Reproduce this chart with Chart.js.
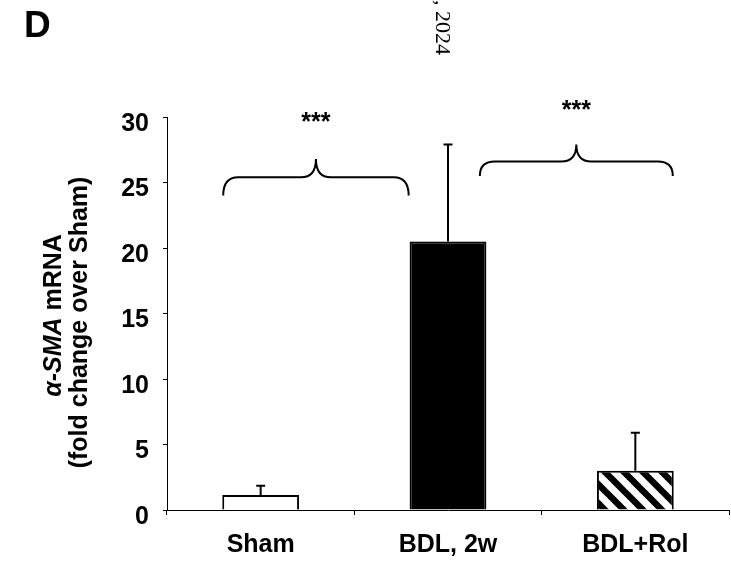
<!DOCTYPE html>
<html>
<head>
<meta charset="utf-8">
<script src="https://cdn.jsdelivr.net/npm/chart.js@4"></script>
<style>
  html, body { margin: 0; padding: 0; background: #fff; }
  #wrap { width: 731px; height: 563px; position: relative; }
</style>
</head>
<body>
<div id="wrap"><canvas id="chart"></canvas></div>
<script>
// values
const categories = ['Sham', 'BDL, 2w', 'BDL+Rol'];
const foldChange = [1.15, 20.5, 3.0];
const errorUp = [0.7, 7.4, 2.9];
const yMax = 30;
const yStep = 5;
// significance braces: category-index span and value levels
const braceFrom = [-0.2, 1.17];
const braceTo = [0.79, 2.2];
const braceFoot = [24.0, 25.5];
const braceLine = [25.4, 26.6];
const braceTip = [26.8, 27.9];
const braceLabel = ['***', '***'];
const braceLabelY = [29.8, 30.7];

const FONT = '"Liberation Sans", Arial, sans-serif';

function hatchPattern() {
  // black diagonal stripes, top-left to bottom-right
  const p = 19;
  const c = document.createElement('canvas');
  c.width = p; c.height = p;
  const g = c.getContext('2d');
  g.fillStyle = '#fff';
  g.fillRect(0, 0, p, p);
  g.strokeStyle = '#000';
  g.lineWidth = 6.5;
  for (const off of [-p, 0, p]) {
    g.beginPath();
    g.moveTo(off - 2, -2);
    g.lineTo(off + p + 2, p + 2);
    g.stroke();
  }
  return document.getElementById('chart').getContext('2d').createPattern(c, 'repeat');
}

const errorBars = {
  id: 'errorBars',
  afterDatasetsDraw(chart) {
    const { ctx, scales: { x, y } } = chart;
    ctx.save();
    ctx.strokeStyle = '#000';
    ctx.lineWidth = 2;
    for (let i = 0; i < foldChange.length; i++) {
      const px = x.getPixelForValue(i);
      const y0 = y.getPixelForValue(foldChange[i]);
      const y1 = y.getPixelForValue(foldChange[i] + errorUp[i]);
      ctx.beginPath();
      ctx.moveTo(px, y0);
      ctx.lineTo(px, y1);
      ctx.moveTo(px - 4.5, y1);
      ctx.lineTo(px + 4.5, y1);
      ctx.stroke();
    }
    ctx.restore();
  }
};

const braces = {
  id: 'braces',
  afterDraw(chart) {
    const { ctx, scales: { x, y } } = chart;
    ctx.save();
    ctx.strokeStyle = '#000';
    ctx.lineWidth = 2;
    for (let i = 0; i < braceFrom.length; i++) {
      const x0 = x.getPixelForValue(braceFrom[i]);
      const x1 = x.getPixelForValue(braceTo[i]);
      const xc = (x0 + x1) / 2;
      const yf = y.getPixelForValue(braceFoot[i]);
      const yl = y.getPixelForValue(braceLine[i]);
      const yt = y.getPixelForValue(braceTip[i]);
      const r = 15;
      ctx.beginPath();
      ctx.moveTo(x0, yf);
      ctx.quadraticCurveTo(x0, yl, x0 + r, yl);
      ctx.lineTo(xc - r, yl);
      ctx.quadraticCurveTo(xc, yl, xc, yt);
      ctx.quadraticCurveTo(xc, yl, xc + r, yl);
      ctx.lineTo(x1 - r, yl);
      ctx.quadraticCurveTo(x1, yl, x1, yf);
      ctx.stroke();

      ctx.fillStyle = '#000';
      ctx.font = 'bold 25px ' + FONT;
      ctx.textAlign = 'center';
      ctx.textBaseline = 'middle';
      ctx.fillText(braceLabel[i], xc, y.getPixelForValue(braceLabelY[i]) + 3);
    }
    ctx.restore();
  }
};

const extraText = {
  id: 'extraText',
  afterDraw(chart) {
    const ctx = chart.ctx;
    const y = chart.scales.y;
    ctx.save();
    ctx.fillStyle = '#000';

    // panel letter
    ctx.font = 'bold 37px ' + FONT;
    ctx.textAlign = 'left';
    ctx.textBaseline = 'alphabetic';
    ctx.fillText('D', 24, 37);

    // rotated margin text
    ctx.save();
    ctx.translate(436, 55);
    ctx.rotate(Math.PI / 2);
    ctx.font = '22px "Liberation Serif", "Times New Roman", serif';
    ctx.textAlign = 'right';
    ctx.textBaseline = 'alphabetic';
    ctx.fillText(', 2024', 0, 0);
    ctx.restore();

    // y-axis title, two lines, first part italic
    const cy = (y.top + y.bottom) / 2 + 6;
    ctx.save();
    ctx.translate(0, cy);
    ctx.rotate(-Math.PI / 2);
    ctx.textBaseline = 'middle';
    ctx.textAlign = 'left';
    const a = 'α-SMA', b = ' mRNA';
    ctx.font = 'italic bold 25px ' + FONT;
    const wa = ctx.measureText(a).width;
    ctx.font = 'bold 25px ' + FONT;
    const wb = ctx.measureText(b).width;
    const sx = -(wa + wb) / 2 + 4;
    ctx.font = 'italic bold 25px ' + FONT;
    ctx.fillText(a, sx, 54);
    ctx.font = 'bold 25px ' + FONT;
    ctx.fillText(b, sx + wa, 54);
    ctx.textAlign = 'center';
    ctx.fillText('(fold change over Sham)', -3, 80);
    ctx.restore();

    ctx.restore();
  }
};

const ctx = document.getElementById('chart').getContext('2d');
new Chart(ctx, {
  type: 'bar',
  data: {
    labels: categories,
    datasets: [{
      data: foldChange,
      backgroundColor: ['#ffffff', '#000000', hatchPattern()],
      borderColor: '#000',
      borderWidth: 2,
      borderSkipped: 'bottom',
      categoryPercentage: 1,
      barPercentage: 0.41
    }]
  },
  options: {
    responsive: true,
    maintainAspectRatio: false,
    animation: false,
    events: [],
    layout: { padding: { top: 117, left: 0, right: 2, bottom: 0 } },
    plugins: { legend: { display: false }, tooltip: { enabled: false } },
    scales: {
      x: {
        afterFit: s => { s.height = 53; },
        border: { display: true, color: '#000', width: 1 },
        grid: { display: true, drawOnChartArea: false, tickLength: 5, tickColor: '#000', offset: true },
        ticks: { color: '#000', padding: 15, font: { family: FONT, size: 25, weight: 'bold' } }
      },
      y: {
        min: 0,
        max: yMax,
        afterFit: s => { s.width = 167; },
        border: { display: true, color: '#000', width: 1 },
        grid: { display: true, drawOnChartArea: false, tickLength: 4, tickColor: '#000' },
        ticks: { stepSize: yStep, color: '#000', padding: 14, labelOffset: 7, font: { family: FONT, size: 25, weight: 'bold' } }
      }
    }
  },
  plugins: [errorBars, braces, extraText]
});
</script>
</body>
</html>
